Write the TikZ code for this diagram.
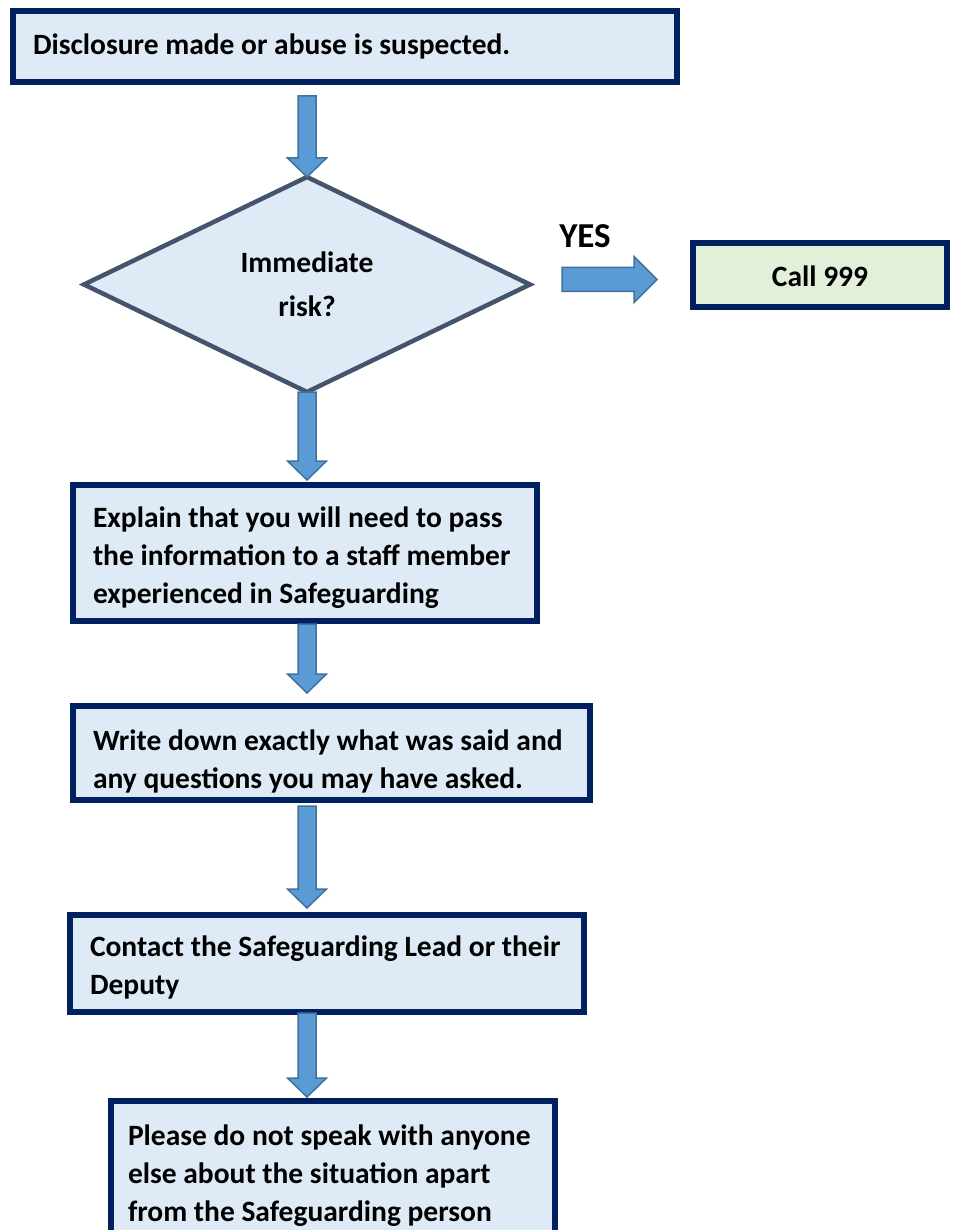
\documentclass[tikz,border=0pt]{standalone}
\usepackage{fontspec}
\setmainfont{Carlito}
\usetikzlibrary{shapes.geometric, calc}

\definecolor{boxline}{HTML}{002060}
\definecolor{boxfill}{HTML}{DEEBF7}
\definecolor{callfill}{HTML}{E2F0D9}
\definecolor{arrfill}{HTML}{5B9BD5}
\definecolor{arredge}{HTML}{41719C}
\definecolor{decline}{HTML}{44546A}

\tikzset{
  stepbox/.style={rectangle, draw=boxline, line width=6pt, fill=boxfill, anchor=north west,
    align=flush left, inner xsep=20pt, inner ysep=0pt, outer sep=0pt,
    font=\bfseries\fontsize{29.5}{38}\selectfont},
  lowered/.style={execute at begin node={\rule{0pt}{#1}}},
  decision/.style={diamond, draw=decline, line width=4.5pt, fill=boxfill, outer sep=0pt,
    minimum width=446pt, minimum height=215pt, inner sep=0pt, align=flush center,
    font=\bfseries\fontsize{29.5}{38}\selectfont},
  blockarr/.style={draw=arredge, line width=1.5pt, fill=arrfill, line join=miter},
}

% block arrow pointing down, from #1 to #2
\newcommand{\downblock}[2]{%
  \draw[blockarr] let \p1=(#1), \p2=(#2) in
    (\x1-9pt,\y1) -- (\x1+9pt,\y1) -- (\x1+9pt,\y2+19pt) -- (\x1+19.5pt,\y2+19pt)
    -- (\x1,\y2) -- (\x1-19.5pt,\y2+19pt) -- (\x1-9pt,\y2+19pt) -- cycle;}
% block arrow pointing right, from #1 to #2
\newcommand{\rightblock}[2]{%
  \draw[blockarr] let \p1=(#1), \p2=(#2) in
    (\x1,\y1+12pt) -- (\x2-23pt,\y1+12pt) -- (\x2-23pt,\y1+23pt) -- (\x2,\y1)
    -- (\x2-23pt,\y1-23pt) -- (\x2-23pt,\y1-12pt) -- (\x1,\y1-12pt) -- cycle;}

\begin{document}
\begin{tikzpicture}[x=1pt, y=-1pt]
  \useasboundingbox (0,0) rectangle (952,1230);

  % start
  \node[stepbox, text width=624pt, minimum height=71pt] (disclose) at (13,11)
    {Disclosure made or abuse is suspected.};

  % decision
  \node[decision] (risk) at (307,284.5) {Immediate\\[6pt]risk?};
  \node[font=\bfseries\fontsize{35}{40}\selectfont] (yes) at (585,236) {YES};
  \node[stepbox, fill=callfill, anchor=center, align=flush center, text width=214pt,
    minimum height=64pt, lowered=24pt] (call) at (820,275) {Call 999};

  % steps
  \node[stepbox, text width=424pt, minimum height=136pt, lowered=29pt] (explain) at (73,485)
    {Explain that you will need to pass\\the information to a staff member\\experienced in Safeguarding};
  \node[stepbox, text width=477pt, minimum height=94pt, lowered=37pt] (write) at (73,706)
    {Write down exactly what was said and\\any questions you may have asked.};
  \node[stepbox, text width=474pt, minimum height=97pt, lowered=29pt] (contact) at (70,915)
    {Contact the Safeguarding Lead or their\\Deputy};
  \node[stepbox, text width=410pt, inner xsep=17pt, minimum height=144pt, lowered=25pt] (please) at (111,1101)
    {Please do not speak with anyone\\else about the situation apart\\from the Safeguarding person};

  % arrows
  \downblock{$(risk.north |- disclose.south)+(0,14)$}{risk.north}
  \downblock{risk.south}{$(explain.north -| risk.south)+(0,-5)$}
  \downblock{$(explain.south -| risk.south)+(0,3)$}{$(write.north -| risk.south)+(0,-13)$}
  \downblock{$(write.south -| risk.south)+(0,6)$}{$(contact.north -| risk.south)+(0,-7)$}
  \downblock{$(contact.south -| risk.south)+(0,1)$}{$(please.north -| risk.south)+(0,-4)$}
  \rightblock{$(risk.east)+(32,-5)$}{$(call.west)+(-36,5)$}
\end{tikzpicture}
\end{document}
